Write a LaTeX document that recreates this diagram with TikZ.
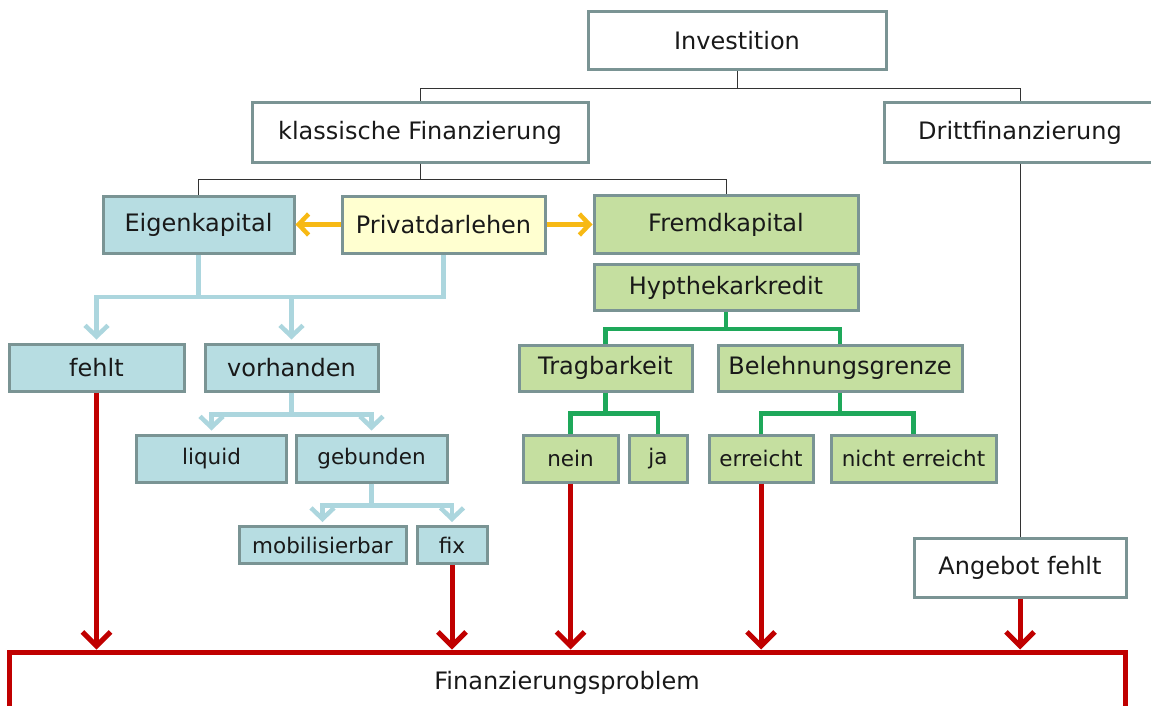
\documentclass[tikz,border=0pt]{standalone}
\usepackage{fontspec}
\setmainfont{DejaVu Sans}
\usetikzlibrary{arrows.meta}
\definecolor{boxgray}{RGB}{122,148,148}
\definecolor{lblue}{RGB}{183,221,226}
\definecolor{lblueline}{RGB}{172,214,222}
\definecolor{lgreen}{RGB}{197,223,160}
\definecolor{dgreen}{RGB}{30,168,90}
\definecolor{lyellow}{RGB}{255,255,208}
\definecolor{orangey}{RGB}{247,185,20}
\definecolor{dred}{RGB}{192,0,0}

\begin{document}
\begin{tikzpicture}[x=1pt,y=-1pt,
  box/.style={draw=boxgray,line width=3pt,inner sep=0pt,text=black!90,font=\fontsize{24}{28}\selectfont},
  wbox/.style={box,fill=white},
  bbox/.style={box,fill=lblue},
  gbox/.style={box,fill=lgreen},
  ybox/.style={box,fill=lyellow},
  small/.style={font=\fontsize{21.5}{26}\selectfont},
  probbox/.style={draw=dred,line width=5pt,fill=white,inner sep=0pt,text=black!90,font=\fontsize{24}{28}\selectfont},
  kline/.style={draw=black!80,line width=1pt},
  bline/.style={draw=lblueline,line width=4.5pt},
  bbarb/.style={-{Straight Barb[length=11pt,width=23pt]},shorten >=3pt},
  gline/.style={draw=dgreen,line width=4.5pt},
  yarr/.style={draw=orangey,line width=4.5pt,-{Straight Barb[length=10pt,width=21pt]}},
  rarr/.style={draw=dred,line width=5pt,-{Straight Barb[length=14pt,width=28pt]}}]
\useasboundingbox (0,0) rectangle (1151,706);
%put nodes
%top
\node[wbox,minimum width=298pt,minimum height=58pt] (inv) at (737,41) {Investition};
\node[wbox,minimum width=336pt,minimum height=59pt] (klass) at (420,132.5) {klassische Finanzierung};
\node[wbox,minimum width=272pt,minimum height=59pt] (dritt) at (1020,132.5) {Drittfinanzierung};
%Kapital
\node[bbox,minimum width=191pt,minimum height=57pt] (eigen) at (198.5,224.5) {Eigenkapital};
\node[ybox,minimum width=203pt,minimum height=57pt] (priv) at (443.5,224.5) {Privatdarlehen};
\node[gbox,minimum width=264pt,minimum height=58pt] (fremd) at (726,224.5) {Fremdkapital};
%Eigenkapital
\node[bbox,minimum width=175pt,minimum height=47pt] (fehlt) at (96.5,367.5) {fehlt};
\node[bbox,minimum width=173pt,minimum height=47pt] (vorh) at (291.5,367.5) {vorhanden};
\node[bbox,small,minimum width=150pt,minimum height=47pt] (liq) at (211.5,458.5) {liquid};
\node[bbox,small,minimum width=151pt,minimum height=47pt] (geb) at (371.5,458.5) {gebunden};
\node[bbox,small,minimum width=167pt,minimum height=37pt] (mobil) at (322.5,545) {mobilisierbar};
\node[bbox,small,minimum width=70pt,minimum height=37pt] (fix) at (452,545) {fix};
%Fremdkapital
\node[gbox,minimum width=264pt,minimum height=46pt] (hypo) at (726,287.5) {Hypthekarkredit};
\node[gbox,minimum width=173pt,minimum height=46pt] (trag) at (605.5,368) {Tragbarkeit};
\node[gbox,minimum width=244pt,minimum height=46pt] (beleh) at (840,368) {Belehnungsgrenze};
\node[gbox,small,minimum width=95pt,minimum height=47pt] (nein) at (570.5,458.5) {nein};
\node[gbox,small,minimum width=58pt,minimum height=47pt] (ja) at (658,458.5) {ja};
\node[gbox,small,minimum width=104pt,minimum height=47pt] (err) at (761,458.5) {erreicht};
\node[gbox,small,minimum width=165pt,minimum height=47pt] (nerr) at (913.5,458.5) {nicht erreicht};
%Drittfinanzierung
\node[wbox,minimum width=212pt,minimum height=59pt] (angeb) at (1020,567.5) {Angebot fehlt};
%Problem
\node[probbox,minimum width=1116pt,minimum height=62pt] (prob) at (567,683) {Finanzierungsproblem};

%plot the lines
%black
\draw[kline] (inv.south) -- ++(0,17) -| (klass.north);
\draw[kline] (inv.south) -- ++(0,17) -| (dritt.north);
\draw[kline] (klass.south) -- ++(0,16) -| (eigen.north);
\draw[kline] (klass.south) -- ++(0,16) -| (fremd.north);
\draw[kline] (dritt.south) -- (angeb.north);
%orange
\draw[yarr] (priv.west) -- (eigen.east);
\draw[yarr] (priv.east) -- (fremd.west);
%light blue
\coordinate (ekj) at (198.5,297);
\draw[bline] (eigen.south) -- (ekj) -| (priv.south);
\draw[bline,bbarb] (ekj) -| (fehlt.north);
\draw[bline,bbarb] (ekj) -| (vorh.north);
\draw[bline,bbarb] (vorh.south) -- ++(0,22) -| (liq.north);
\draw[bline,bbarb] (vorh.south) -- ++(0,22) -| (geb.north);
\draw[bline,bbarb] (geb.south) -- ++(0,22) -| (mobil.north);
\draw[bline,bbarb] (geb.south) -- ++(0,22) -| (fix.north);
%green
\draw[gline] (hypo.south) -- ++(0,17) -| (trag.north);
\draw[gline] (hypo.south) -- ++(0,17) -| (beleh.north);
\draw[gline] (trag.south) -- ++(0,21) -| (nein.north);
\draw[gline] (trag.south) -- ++(0,21) -| (ja.north);
\draw[gline] (beleh.south) -- ++(0,21) -| (err.north);
\draw[gline] (beleh.south) -- ++(0,21) -| (nerr.north);
%red
\draw[rarr] (fehlt.south) -- (fehlt.south |- prob.north);
\draw[rarr] (fix.south) -- (fix.south |- prob.north);
\draw[rarr] (nein.south) -- (nein.south |- prob.north);
\draw[rarr] (err.south) -- (err.south |- prob.north);
\draw[rarr] (angeb.south) -- (angeb.south |- prob.north);
\end{tikzpicture}
\end{document}
